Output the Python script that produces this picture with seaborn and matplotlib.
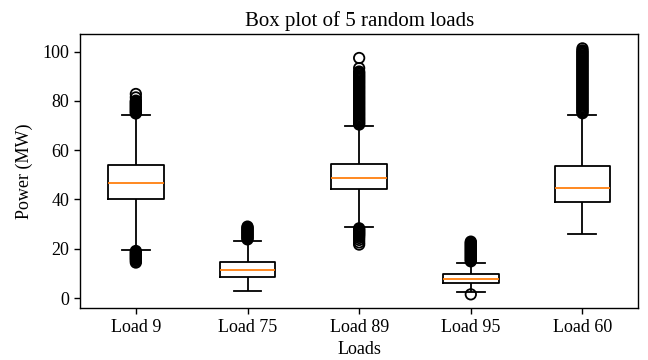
import numpy as np
import pandas as pd
import matplotlib
matplotlib.use("Agg")
import matplotlib.pyplot as plt
import seaborn as sns

# Load names in plotting order
loads = ["Load 9", "Load 75", "Load 89", "Load 95", "Load 60"]

# Box statistics per load (MW)
whisker_low = [19.6, 2.8, 29.0, 2.3, 25.8]
q1 = [40.0, 8.6, 44.1, 6.0, 39.1]
median = [46.8, 11.4, 48.9, 7.7, 44.6]
q3 = [53.8, 14.6, 54.5, 9.6, 53.4]
whisker_high = [74.4, 23.2, 69.8, 14.2, 74.4]

# Outlying observations per load (MW)
fliers_load9 = [
    74.9, 75.3, 75.7, 76.1, 76.5, 76.9, 77.3, 77.7, 78.1, 78.5, 78.9, 79.3,
    79.7, 80.1, 81.4, 82.8,
    19.1, 18.7, 18.3, 17.9, 17.5, 17.1, 16.7, 16.3, 15.9, 15.5, 15.0, 14.4,
]
fliers_load75 = [
    23.8, 24.2, 24.6, 25.0, 25.4, 25.8, 26.2, 26.6, 27.0, 27.4, 27.8, 28.2,
    28.6, 29.0,
]
fliers_load89 = [
    70.4, 70.9, 71.4, 71.9, 72.4, 72.9, 73.4, 73.9, 74.4, 74.9, 75.4, 75.9,
    76.4, 76.9, 77.4, 77.9, 78.4, 78.9, 79.4, 79.9, 80.4, 80.9, 81.4, 81.9,
    82.4, 82.9, 83.4, 83.9, 84.4, 84.9, 85.4, 85.9, 86.4, 86.9, 87.4, 87.9,
    88.4, 88.9, 89.4, 89.9, 90.4, 90.9, 91.4, 91.9, 93.3, 97.4,
    28.3, 27.9, 27.5, 27.1, 26.7, 26.3, 25.9, 25.5, 25.0, 24.4, 23.6, 22.6,
    21.7,
]
fliers_load95 = [
    14.9, 15.3, 15.7, 16.1, 16.5, 16.9, 17.3, 17.7, 18.1, 18.5, 18.9, 19.3,
    19.7, 20.1, 20.5, 20.9, 21.3, 21.7, 22.1, 22.5, 22.9,
    1.5,
]
fliers_load60 = [
    75.0, 75.5, 76.0, 76.5, 77.0, 77.5, 78.0, 78.5, 79.0, 79.5, 80.0, 80.5,
    81.0, 81.5, 82.0, 82.5, 83.0, 83.5, 84.0, 84.5, 85.0, 85.5, 86.0, 86.5,
    87.0, 87.5, 88.0, 88.5, 89.0, 89.5, 90.0, 90.5, 91.0, 91.5, 92.0, 92.5,
    93.0, 93.5, 94.0, 94.5, 95.0, 95.5, 96.0, 96.5, 97.0, 97.5, 98.0, 98.5,
    99.0, 99.5, 100.0, 100.5, 101.3,
]
fliers = {
    "Load 9": fliers_load9,
    "Load 75": fliers_load75,
    "Load 89": fliers_load89,
    "Load 95": fliers_load95,
    "Load 60": fliers_load60,
}

# Five-number summaries as tidy rows; each one reproduces its box exactly
box_rows = []
for i, name in enumerate(loads):
    for v in (whisker_low[i], q1[i], median[i], q3[i], whisker_high[i]):
        box_rows.append({"Load": name, "Power": v})
box_df = pd.DataFrame(box_rows)

flier_df = pd.DataFrame(
    [{"Load": name, "Power": v} for name in loads for v in fliers[name]]
)

plt.rcParams["font.family"] = "serif"
plt.rcParams["font.serif"] = ["Liberation Serif", "DejaVu Serif"]
plt.rcParams["font.size"] = 13
plt.rcParams["axes.linewidth"] = 1.0
plt.rcParams["xtick.major.width"] = 1.0
plt.rcParams["ytick.major.width"] = 1.0
plt.rcParams["xtick.major.size"] = 4.0
plt.rcParams["ytick.major.size"] = 4.0

fig, ax = plt.subplots(figsize=(6.48, 3.6), dpi=100)
fig.subplots_adjust(left=0.1235, right=0.985, top=0.906, bottom=0.144)

lw = 1.3
sns.boxplot(
    data=box_df, x="Load", y="Power", order=loads,
    width=0.5, fill=False, color="black", linewidth=lw,
    showfliers=False,
    medianprops={"color": "#ff7f0e", "linewidth": lw},
    ax=ax,
)
sns.stripplot(
    data=flier_df, x="Load", y="Power", order=loads,
    jitter=False, size=7.5, marker="o", color="black",
    linewidth=lw, edgecolor="black", ax=ax,
)
for coll in ax.collections:
    coll.set_facecolor("none")
    coll.set_zorder(3)

ax.set_title("Box plot of 5 random loads", fontsize=15)
ax.set_xlabel("Loads")
ax.set_ylabel("Power (MW)", labelpad=7)
ax.set_yticks([0, 20, 40, 60, 80, 100])
ax.set_ylim(-4.1, 107.2)
ax.set_xlim(-0.5, 4.5)
for side in ["top", "right", "left", "bottom"]:
    ax.spines[side].set_visible(True)
    ax.spines[side].set_color("black")

fig.savefig("out.png", dpi=100)
